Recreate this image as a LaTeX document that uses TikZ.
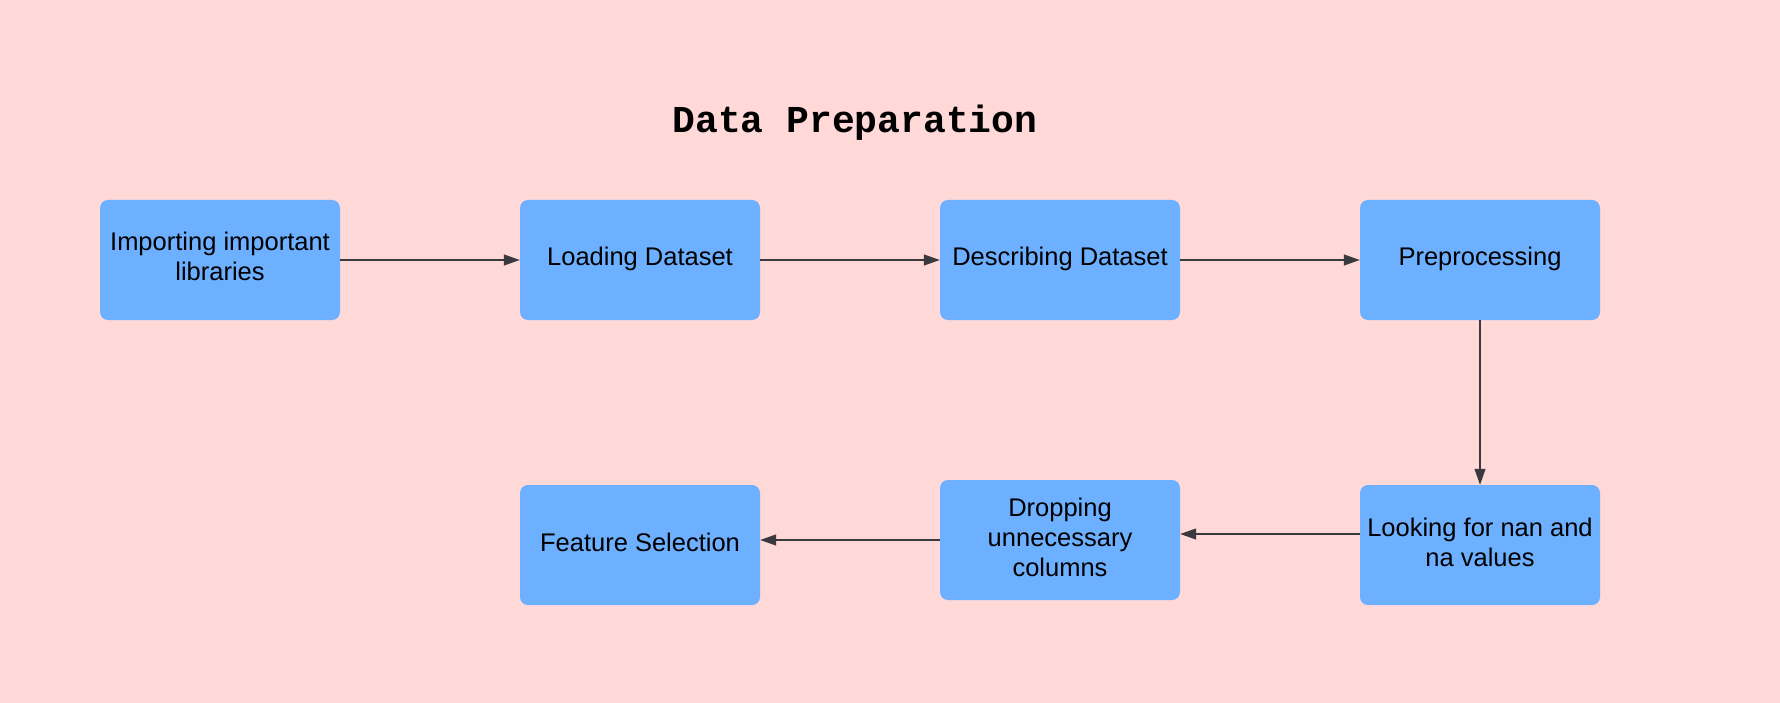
\documentclass[tikz,border=0pt]{standalone}
\usepackage{fontspec}
\setmainfont{Liberation Sans}
\newfontfamily\titlefont{Liberation Mono}
\usetikzlibrary{arrows.meta}
\definecolor{bgpink}{RGB}{255,216,216}
\definecolor{boxblue}{RGB}{108,176,255}
\definecolor{arrowgray}{RGB}{58,58,62}
\newcommand\boxtext[1]{\begin{tabular}{@{}c@{}}#1\end{tabular}}
\tikzset{
  stepbox/.style={rectangle, rounded corners=8pt, fill=boxblue, draw=none,
    minimum width=240pt, minimum height=120pt, inner sep=0pt,
    font=\fontsize{25.5pt}{30pt}\selectfont},
  arr/.style={draw=arrowgray, line width=1.2pt, -{Triangle[length=16pt,width=11pt]}},
}
\begin{document}
\begin{tikzpicture}[x=1pt,y=-1pt]
\useasboundingbox[fill=bgpink] (0,0) rectangle (1780,703);
\node[font=\titlefont\bfseries\fontsize{38pt}{40pt}\selectfont] (title) at (855,123) {Data Preparation};
\node[stepbox] (b1) at (220,260) {\boxtext{Importing important\\libraries}};
\node[stepbox] (b2) at (640,260) {\boxtext{Loading Dataset}};
\node[stepbox] (b3) at (1060,260) {\boxtext{Describing Dataset}};
\node[stepbox] (b4) at (1480,260) {\boxtext{Preprocessing}};
\node[stepbox] (b5) at (1480,545) {\boxtext{Looking for nan and\\na values}};
\node[stepbox] (b6) at (1060,540) {\boxtext{Dropping\\unnecessary\\columns}};
\node[stepbox] (b7) at (640,545) {\boxtext{Feature Selection}};
\draw[arr] (b1.east) -- (b2.west);
\draw[arr] (b2.east) -- (b3.west);
\draw[arr] (b3.east) -- (b4.west);
\draw[arr] (b4.south) -- (b5.north);
\draw[arr] ([yshift=11pt]b5.west) -- ([yshift=6pt]b6.east);
\draw[arr] (b6.west) -- ([yshift=5pt]b7.east);
\end{tikzpicture}
\end{document}
